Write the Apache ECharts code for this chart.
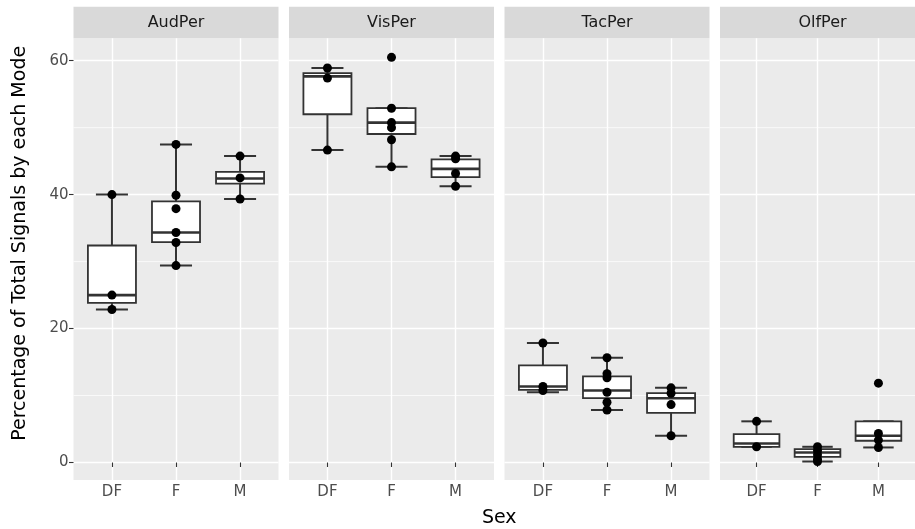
<!DOCTYPE html>
<html><head><meta charset="utf-8">
<script src="https://cdn.jsdelivr.net/npm/echarts@6/dist/echarts.min.js"></script>
<style>html,body{margin:0;padding:0;background:#fff}#c{width:915px;height:529px}</style>
</head><body><div id="c"></div>
<script>
// ---- data ----
const categories = ['DF', 'F', 'M'];
const panelNames = ['AudPer', 'VisPer', 'TacPer', 'OlfPer'];
const yTicks = [0, 20, 40, 60];
const yMinorTicks = [10, 30, 50];
const xTitle = 'Sex';
const yTitle = 'Percentage of Total Signals by each Mode';

// box stats per sex: [lower whisker, Q1, median, Q3, upper whisker]
const audBox = [[22.85, 23.85, 25.0, 32.4, 40.0], [29.4, 32.9, 34.35, 39.0, 47.5], [39.35, 41.65, 42.4, 43.4, 45.75]];
const visBox = [[46.65, 52.0, 57.65, 58.15, 58.9], [44.15, 49.05, 50.75, 52.9, 52.9], [41.25, 42.6, 43.85, 45.25, 45.75]];
const tacBox = [[10.5, 10.85, 11.35, 14.5, 17.85], [7.85, 9.6, 10.75, 12.85, 15.65], [4.0, 7.4, 9.6, 10.35, 11.15]];
const olfBox = [[2.35, 2.35, 2.85, 4.25, 6.15], [0.15, 0.85, 1.5, 2.0, 2.35], [2.25, 3.25, 4.0, 6.15, 6.15]];

// individual observations per sex
const audPts = [[40.0, 25.0, 22.85], [47.5, 39.9, 37.9, 34.35, 32.85, 29.4], [45.75, 42.5, 39.35]];
const visPts = [[58.9, 57.4, 46.65], [60.5, 52.9, 50.75, 50.0, 48.2, 44.15], [45.75, 45.35, 43.15, 41.25]];
const tacPts = [[17.85, 11.35, 10.75], [15.65, 13.25, 12.65, 10.5, 9.0, 7.85], [11.15, 10.35, 8.65, 4.0]];
const olfPts = [[6.15, 2.35], [2.35, 1.75, 1.15, 0.5, 0.15], [11.85, 4.35, 3.35, 2.25]];

const boxes = [audBox, visBox, tacBox, olfBox];
const points = [audPts, visPts, tacPts, olfPts];

// ---- layout ----
const LEFTS = [73.5, 289, 504.5, 720];
const PW = 205, PTOP = 38.3, PH = 441.7, STRIP_TOP = 6.7;
const Y_MIN = -2.61, Y_MAX = 63.34, X_MIN = 0.4, X_MAX = 3.6;
const FONT = '"DejaVu Sans", "Liberation Sans", Arial, sans-serif';
const catPos = categories.map((c, i) => i + 1);

const chart = echarts.init(document.getElementById('c'), null, {renderer: 'canvas'});

const grid = [], xAxis = [], yAxis = [], series = [], graphic = [];
panelNames.forEach((name, i) => {
  grid.push({left: LEFTS[i], top: PTOP, width: PW, height: PH, show: true,
    backgroundColor: '#EBEBEB', borderWidth: 0, containLabel: false});
  xAxis.push({type: 'value', gridIndex: i, min: X_MIN, max: X_MAX,
    axisLine: {show: false},
    axisTick: {show: true, length: 4.5, lineStyle: {color: '#333', width: 1.1}, customValues: catPos},
    axisLabel: {show: true, customValues: catPos, color: '#4D4D4D', fontSize: 15, fontFamily: FONT, margin: 5,
      formatter: v => categories[Math.round(v) - 1]},
    splitLine: {show: true, lineStyle: {color: '#FFFFFF', width: 1.4}}});
  yAxis.push({type: 'value', gridIndex: i, min: Y_MIN, max: Y_MAX,
    axisLine: {show: false},
    axisTick: {show: i === 0, length: 4.5, lineStyle: {color: '#333', width: 1.1}, customValues: yTicks},
    axisLabel: {show: i === 0, customValues: yTicks, color: '#4D4D4D', fontSize: 15, fontFamily: FONT, margin: 5},
    splitLine: {show: true, lineStyle: {color: '#FFFFFF', width: 1.4}}});

  // minor horizontal gridlines
  series.push({type: 'custom', xAxisIndex: i, yAxisIndex: i, z: 1, silent: true,
    data: yMinorTicks.map(v => [v]),
    encode: {y: 0},
    renderItem: (params, api) => {
      const v = api.value(0);
      const a = api.coord([X_MIN, v]), b = api.coord([X_MAX, v]);
      return {type: 'line', shape: {x1: a[0], y1: a[1], x2: b[0], y2: b[1]},
        style: {stroke: '#FFFFFF', lineWidth: 0.7}};
    }});

  series.push({type: 'custom', xAxisIndex: i, yAxisIndex: i, z: 3,
    data: boxes[i].map((b, j) => [catPos[j]].concat(b)),
    encode: {x: 0, y: [1, 2, 3, 4, 5]},
    renderItem: (params, api) => {
      const x = api.value(0);
      const v = [1, 2, 3, 4, 5].map(d => api.value(d));
      const p = v.map(val => api.coord([x, val]));
      const cx = p[0][0];
      const bw = api.size([0.75, 0])[0];
      const cw = api.size([0.5, 0])[0];
      const st = {stroke: '#333333', lineWidth: 2};
      return {type: 'group', children: [
        {type: 'line', shape: {x1: cx, y1: p[0][1], x2: cx, y2: p[1][1]}, style: st},
        {type: 'line', shape: {x1: cx, y1: p[3][1], x2: cx, y2: p[4][1]}, style: st},
        {type: 'line', shape: {x1: cx - cw / 2, y1: p[0][1], x2: cx + cw / 2, y2: p[0][1]}, style: st},
        {type: 'line', shape: {x1: cx - cw / 2, y1: p[4][1], x2: cx + cw / 2, y2: p[4][1]}, style: st},
        {type: 'rect', shape: {x: cx - bw / 2, y: p[3][1], width: bw, height: p[1][1] - p[3][1]},
          style: {fill: '#FFFFFF', stroke: '#333333', lineWidth: 1.8}},
        {type: 'line', shape: {x1: cx - bw / 2, y1: p[2][1], x2: cx + bw / 2, y2: p[2][1]},
          style: {stroke: '#333333', lineWidth: 2.6}}
      ]};
    }});
  const pts = [];
  points[i].forEach((arr, j) => arr.forEach(val => pts.push([catPos[j], val])));
  series.push({type: 'scatter', xAxisIndex: i, yAxisIndex: i, z: 5, data: pts,
    symbol: 'circle', symbolSize: 9, itemStyle: {color: '#000000', opacity: 1}});

  graphic.push({type: 'rect', left: LEFTS[i], top: STRIP_TOP, shape: {width: PW, height: PTOP - STRIP_TOP},
    style: {fill: '#D9D9D9'}, silent: true});
  graphic.push({type: 'text', x: LEFTS[i] + PW / 2, y: (STRIP_TOP + PTOP) / 2,
    style: {text: name, fill: '#1A1A1A', font: '16px ' + FONT, textAlign: 'center', textVerticalAlign: 'middle',
      align: 'center', verticalAlign: 'middle'}, silent: true});
});

graphic.push({type: 'text', x: (LEFTS[0] + LEFTS[3] + PW) / 2, y: 518,
  style: {text: xTitle, fill: '#000', font: '19px ' + FONT, textAlign: 'center', textVerticalAlign: 'middle',
    align: 'center', verticalAlign: 'middle'}, silent: true});
graphic.push({type: 'text', x: 20, y: (STRIP_TOP + PTOP + PH) / 2, rotation: Math.PI / 2,
  style: {text: yTitle, fill: '#000', font: '19px ' + FONT, textAlign: 'center', textVerticalAlign: 'middle',
    align: 'center', verticalAlign: 'middle'}, silent: true});

chart.setOption({animation: false, backgroundColor: '#FFFFFF', grid, xAxis, yAxis, series, graphic});
</script></body></html>
